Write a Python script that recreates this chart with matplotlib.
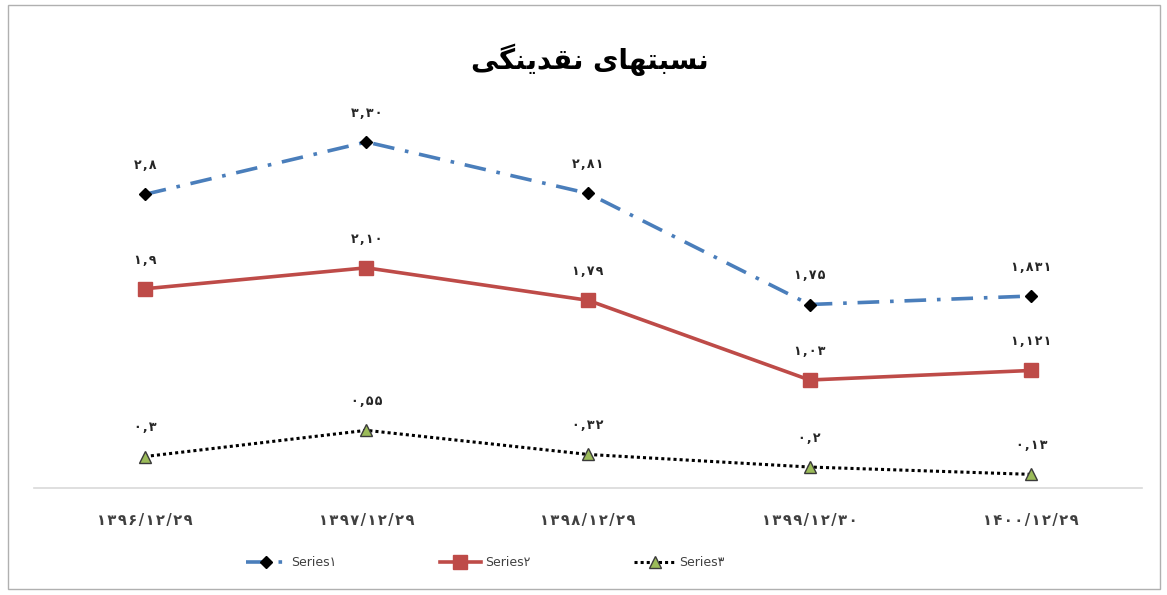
import matplotlib
matplotlib.use("Agg")
import matplotlib.pyplot as plt
from matplotlib.patches import Rectangle

# ---------------- data ----------------
categories = ["1396/12/29", "1397/12/29", "1398/12/29", "1399/12/30", "1400/12/29"]
series1 = [2.8, 3.30, 2.81, 1.75, 1.831]
series2 = [1.9, 2.10, 1.79, 1.03, 1.121]
series3 = [0.3, 0.55, 0.32, 0.2, 0.13]
labels1 = ["2,8", "3,30", "2,81", "1,75", "1,831"]
labels2 = ["1,9", "2,10", "1,79", "1,03", "1,121"]
labels3 = ["0,3", "0,55", "0,32", "0,2", "0,13"]
series_names = ["Series1", "Series2", "Series3"]

PERSIAN = str.maketrans("0123456789", "۰۱۲۳۴۵۶۷۸۹")
def fa(s, spacing=""):
    t = s.translate(PERSIAN)
    return spacing.join(t) if spacing else t

# Title "نسبتهای نقدینگی" shaped manually (presentation forms, visual order)
word1 = ["\uFEE7", "\uFEB4", "\uFE92", "\uFE98", "\uFEEC", "\uFE8E", "\uFEEF"]  # نسبتهای
word2 = ["\uFEE7", "\uFED8", "\uFEAA", "\uFEF3", "\uFEE8", "\uFB95", "\uFEF0"]  # نقدینگی
title_text = "".join(reversed(word2)) + " " + "".join(reversed(word1))

plt.rcParams['font.family'] = ['DejaVu Sans']

fig = plt.figure(figsize=(11.67, 5.95), dpi=100)
fig.patch.set_facecolor("white")

# chart border
fig.add_artist(Rectangle((8/1167, 6/595), 1152/1167, 584/595, transform=fig.transFigure,
                         fill=False, edgecolor="#B0B0B0", linewidth=1.0))

ax = fig.add_axes([34/1167, 107/595, 1108/1167, 367/595])
x = list(range(len(categories)))

ax.plot(x, series1, color="#4A7EBB", linewidth=2.6, linestyle=(0, (6, 3, 1, 3)),
        marker="D", markersize=6.5, markerfacecolor="black", markeredgecolor="black",
        label=fa(series_names[0]), zorder=3)
ax.plot(x, series2, color="#BE4B48", linewidth=2.6, linestyle="-",
        marker="s", markersize=10, markerfacecolor="#BE4B48", markeredgecolor="#BE4B48",
        label=fa(series_names[1]), zorder=3)
ax.plot(x, series3, color="black", linewidth=2.2, linestyle=(0, (1, 1)),
        marker="^", markersize=8, markerfacecolor="#9BBB59", markeredgecolor="#3a3a3a",
        markeredgewidth=1.0, label=fa(series_names[2]), zorder=3)

for vals, labs in ((series1, labels1), (series2, labels2), (series3, labels3)):
    for xi, v, lab in zip(x, vals, labs):
        ax.annotate(fa(lab, "\u200A"), (xi, v), xytext=(0, 16), textcoords="offset points",
                    ha="center", va="bottom", fontsize=9, fontweight="bold", color="#262626")

ax.set_xlim(-0.5, len(categories) - 0.5)
ax.set_ylim(0, 3.5)
ax.set_xticks(x)
ax.set_xticklabels([fa(c, "\u200A") for c in categories], fontsize=10.5,
                   fontweight="bold", color="#404040")
ax.tick_params(axis="x", length=0, pad=18)
ax.set_yticks([])
for s in ("top", "right", "left"):
    ax.spines[s].set_visible(False)
ax.spines["bottom"].set_color("#D9D9D9")
ax.spines["bottom"].set_linewidth(1.2)

fig.text(590/1167, 1 - 60/595, title_text, ha="center", va="center",
         fontsize=20, fontweight="bold", color="black")

leg = fig.legend(loc="center", bbox_to_anchor=(485/1167, 1 - 563/595), ncol=3,
                 frameon=False, fontsize=9, handlelength=3.3, columnspacing=8.3,
                 handletextpad=0.3)
for t in leg.get_texts():
    t.set_color("#404040")

fig.savefig("out.png", dpi=100, facecolor="white")
